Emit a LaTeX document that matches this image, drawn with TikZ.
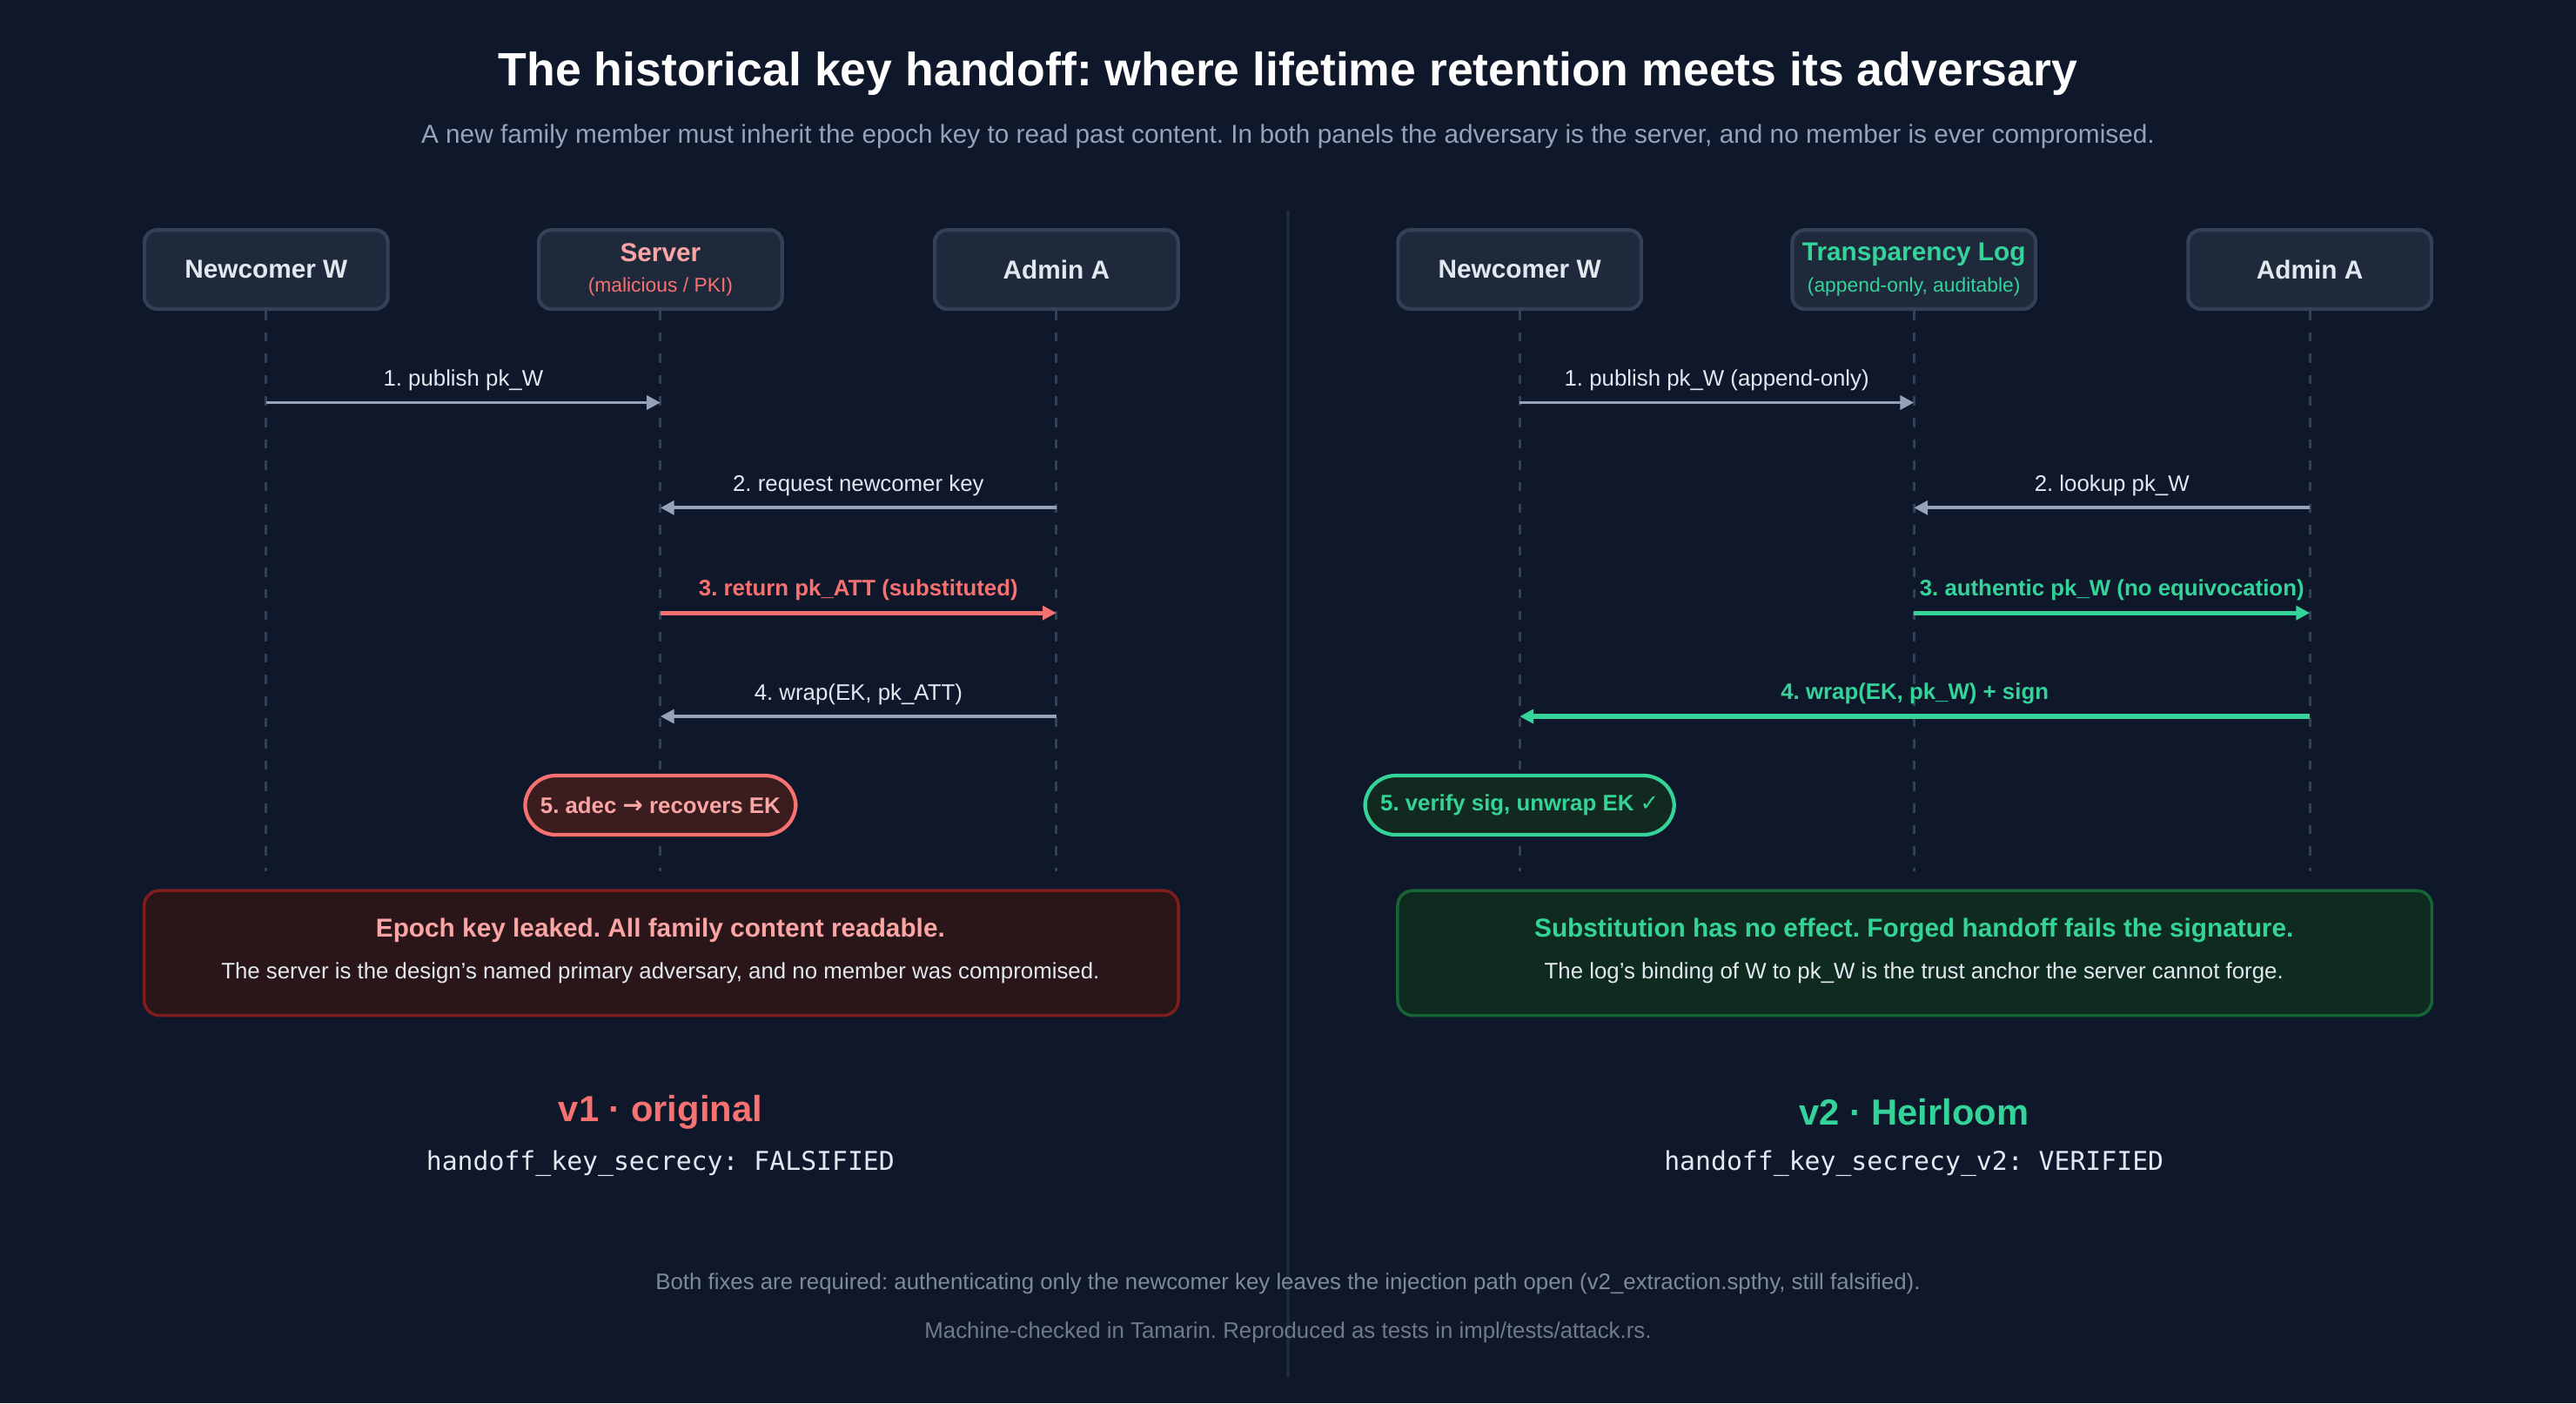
\documentclass[tikz,border=0pt]{standalone}
\usepackage{fontspec}
\setmainfont{Liberation Sans}
\setmonofont{DejaVu Sans Mono}
\newfontfamily\dejavu{DejaVu Sans}
\usetikzlibrary{arrows.meta}
\definecolor{bg}{HTML}{0F172A}
\definecolor{boxf}{HTML}{1E293B}
\definecolor{boxd}{HTML}{334155}
\definecolor{txt}{HTML}{E2E8F0}
\definecolor{sub}{HTML}{94A3B8}
\definecolor{gr}{HTML}{94A3B8}
\definecolor{red}{HTML}{F87171}
\definecolor{redl}{HTML}{FCA5A5}
\definecolor{grn}{HTML}{34D399}
\definecolor{redf}{HTML}{2A1619}
\definecolor{redd}{HTML}{7F1D1D}
\definecolor{grnf}{HTML}{0F2A1F}
\definecolor{grnd}{HTML}{166534}
\definecolor{pillr}{HTML}{3B1C1F}
\definecolor{pillg}{HTML}{11291F}
\newcommand{\fs}[1]{\fontsize{\the\dimexpr #1pt*5650/10000\relax}{\the\dimexpr #1pt*60/100\relax}\selectfont}
\frenchspacing
\begin{document}
\frenchspacing
\begin{tikzpicture}[x=0.01888cm,y=-0.01888cm,
  actor/.style={draw=boxd,fill=boxf,line width=1.2pt,rounded corners=4pt,minimum width=148*0.5375pt,minimum height=48*0.5375pt,inner sep=0pt,align=center},
  life/.style={draw=boxd,line width=0.8pt,dash pattern=on 3pt off 4pt},
  msg/.style={line width=1.1pt,-{Triangle[length=4.5pt,width=4.5pt]}},
  lab/.style={font=\fs{13},text=txt},
  pill/.style={rounded corners=10pt,line width=1.2pt,minimum height=36*0.5375pt,inner xsep=5pt,font=\fs{13}\bfseries},
  res/.style={rounded corners=5pt,line width=1pt,minimum width=629*0.5375pt,minimum height=76*0.5375pt}]
\fill[bg] (0,0) rectangle (1568,854);
\useasboundingbox (0,0) rectangle (1568,854);
\node[font=\fs{27}\bfseries,text=white] (title) at (784,45) {The historical key handoff: where lifetime retention meets its adversary};
\node[font=\fs{15},text=sub] (subt) at (784,83) {A new family member must inherit the epoch key to read past content. In both panels the adversary is the server, and no member is ever compromised.};
\coordinate (dtop) at (784,128); \coordinate (dbot) at (784,838);
\draw[boxf,line width=1.2pt] (dtop) -- (dbot);
% left panel
\node[actor] (lw) at (162,164) {\fs{15}\bfseries\color{txt}Newcomer W};
\node[actor] (ls) at (402,164) {\fs{15}\bfseries\color{redl}Server\\[-2pt]\fs{11.5}\color{red}(malicious / PKI)};
\node[actor] (la) at (643,164) {\fs{15}\bfseries\color{txt}Admin A};
\foreach \n in {lw,ls,la}{\coordinate (\n e) at (\n |- 0,530); \draw[life] (\n.south) -- (\n e);}
\coordinate (l1a) at (162,245); \coordinate (l1b) at (402,245);
\coordinate (l2a) at (643,309); \coordinate (l2b) at (402,309);
\coordinate (l3a) at (402,373); \coordinate (l3b) at (643,373);
\coordinate (l4a) at (643,436); \coordinate (l4b) at (402,436);
\draw[msg,gr] (l1a) -- node[lab,above=0pt]{1. publish pk\_W} (l1b);
\draw[msg,gr] (l2a) -- node[lab,above=0pt]{2. request newcomer key} (l2b);
\draw[msg,red,line width=1.5pt] (l3a) -- node[lab,above=0pt,text=red,font=\fs{13}\bfseries]{3. return pk\_ATT (substituted)} (l3b);
\draw[msg,gr] (l4a) -- node[lab,above=0pt]{4. wrap(EK, pk\_ATT)} (l4b);
\node[pill,draw=red,fill=pillr,text=redl] (lp) at (402,490) {5. adec {\dejavu\fs{14}→} recovers EK};
\node[res,draw=redd,fill=redf] (lr) at (402.5,580) {};
\node[font=\fs{15}\bfseries,text=redl] (lrt) at (402,566) {Epoch key leaked. All family content readable.};
\node[font=\fs{13},text=txt] (lrs) at (402,592) {The server is the design's named primary adversary, and no member was compromised.};
\node[font=\fs{21}\bfseries,text=red] (lv) at (402,677) {v1 · original};
\node[font=\ttfamily\fs{15},text=txt] (lm) at (402,708) {handoff\_key\_secrecy: FALSIFIED};
% right panel
\node[actor] (rw) at (925,164) {\fs{15}\bfseries\color{txt}Newcomer W};
\node[actor] (rl) at (1165,164) {\fs{15}\bfseries\color{grn}Transparency Log\\[-2pt]\fs{11.5}\color{grn}(append-only, auditable)};
\node[actor] (ra) at (1406,164) {\fs{15}\bfseries\color{txt}Admin A};
\foreach \n in {rw,rl,ra}{\coordinate (\n e) at (\n |- 0,530); \draw[life] (\n.south) -- (\n e);}
\coordinate (r1a) at (925,245); \coordinate (r1b) at (1165,245);
\coordinate (r2a) at (1406,309); \coordinate (r2b) at (1165,309);
\coordinate (r3a) at (1165,373); \coordinate (r3b) at (1406,373);
\coordinate (r4a) at (1406,436); \coordinate (r4b) at (925,436);
\draw[msg,gr] (r1a) -- node[lab,above=0pt]{1. publish pk\_W (append-only)} (r1b);
\draw[msg,gr] (r2a) -- node[lab,above=0pt]{2. lookup pk\_W} (r2b);
\draw[msg,grn,line width=1.5pt] (r3a) -- node[lab,above=0pt,text=grn,font=\fs{13}\bfseries]{3. authentic pk\_W (no equivocation)} (r3b);
\draw[msg,grn,line width=1.5pt] (r4a) -- node[lab,above=0pt,text=grn,font=\fs{13}\bfseries]{4. wrap(EK, pk\_W) + sign} (r4b);
\node[pill,draw=grn,fill=pillg,text=grn] (rp) at (925,490) {5. verify sig, unwrap EK {\dejavu\bfseries\fs{13}✓}};
\node[res,draw=grnd,fill=grnf] (rr) at (1165.5,580) {};
\node[font=\fs{15}\bfseries,text=grn] (rrt) at (1165,566) {Substitution has no effect. Forged handoff fails the signature.};
\node[font=\fs{13},text=txt] (rrs) at (1165,592) {The log's binding of W to pk\_W is the trust anchor the server cannot forge.};
\node[font=\fs{21}\bfseries,text=grn] (rv) at (1165,677) {v2 · Heirloom};
\node[font=\ttfamily\fs{15},text=txt] (rm) at (1165,708) {handoff\_key\_secrecy\_v2: VERIFIED};
% footer
\node[font=\fs{13},text=sub!85!black] (f1) at (784,781) {Both fixes are required: authenticating only the newcomer key leaves the injection path open (v2\_extraction.spthy, still falsified).};
\node[font=\fs{13},text=sub!75!black] (f2) at (784,811) {Machine-checked in Tamarin. Reproduced as tests in impl/tests/attack.rs.};
\end{tikzpicture}
\end{document}
